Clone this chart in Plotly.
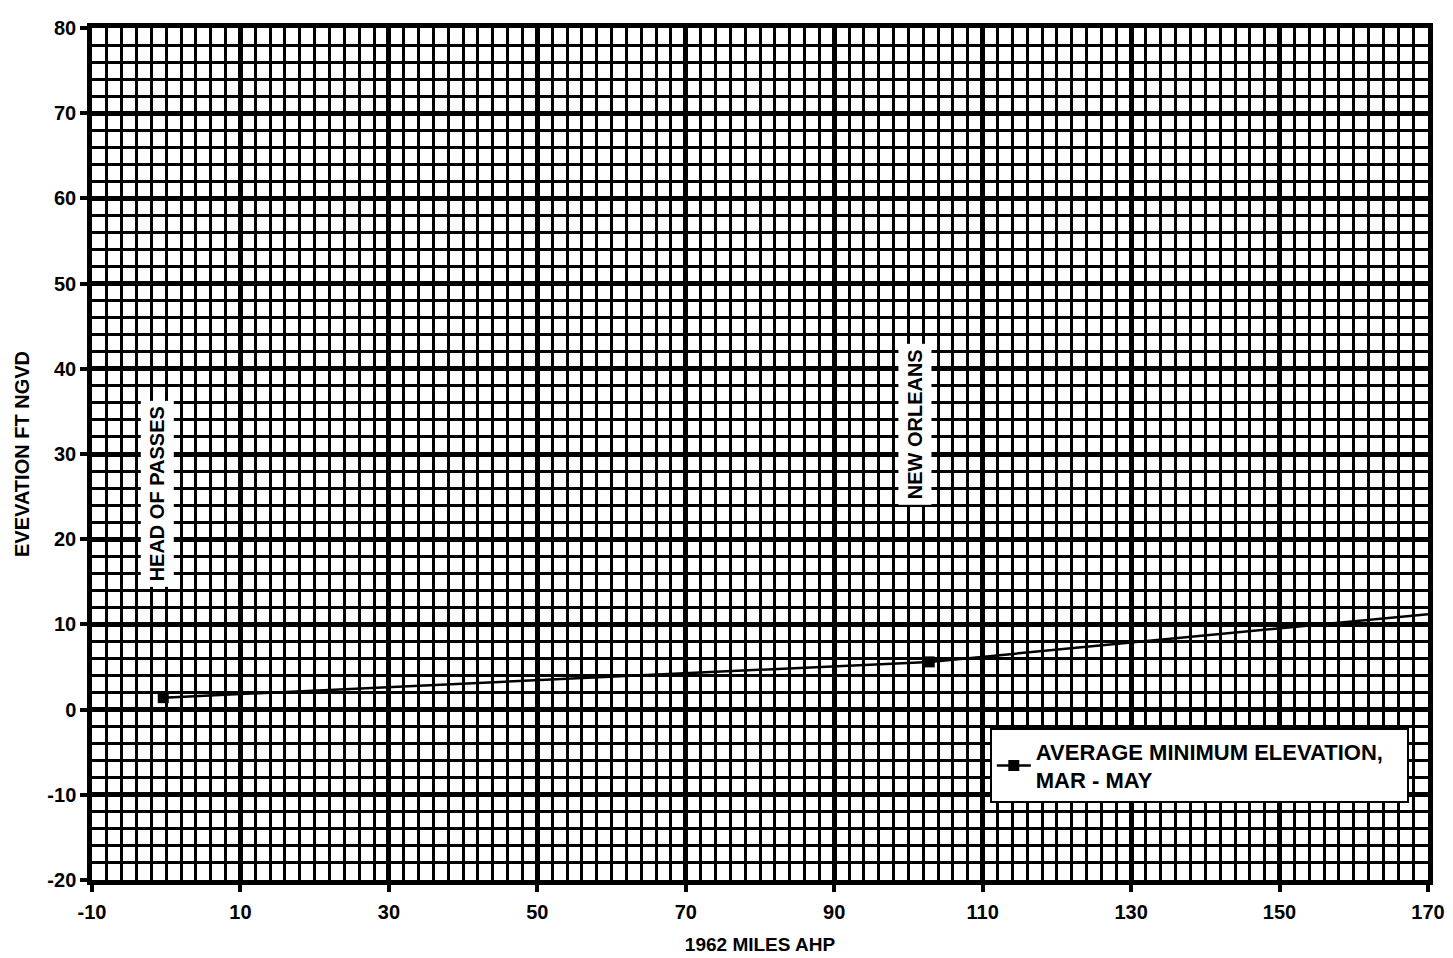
import plotly.graph_objects as go

# Data
miles = [-0.4, 102.8]
elevation = [1.4, 5.6]
ext_miles = [102.8, 170]
ext_elevation = [5.6, 11.2]

x_ticks = [-10, 10, 30, 50, 70, 90, 110, 130, 150, 170]
y_ticks = [-20, -10, 0, 10, 20, 30, 40, 50, 60, 70, 80]

labels = ["HEAD OF PASSES", "NEW ORLEANS"]
label_x = [-1.2, 100.9]
label_y = [25.3, 33.5]

FONT = "Liberation Sans, Arial, sans-serif"

fig = go.Figure()
fig.add_trace(go.Scatter(
    x=miles, y=elevation, mode="lines+markers",
    name="AVERAGE MINIMUM ELEVATION,&nbsp;&nbsp;&nbsp;<br>MAR - MAY",
    line=dict(color="black", width=2.5),
    marker=dict(symbol="square", size=11, color="black"),
))
fig.add_trace(go.Scatter(
    x=ext_miles, y=ext_elevation, mode="lines", showlegend=False,
    line=dict(color="black", width=2.5), hoverinfo="skip",
))

for t, lx, ly in zip(labels, label_x, label_y):
    fig.add_annotation(
        x=lx, y=ly, text=t, textangle=-90, showarrow=False,
        font=dict(family=FONT, size=20, color="black", weight="bold"),
        bgcolor="white", borderpad=5,
    )

axis_common = dict(
    showline=True, linecolor="black", linewidth=4.5, mirror=True,
    showgrid=True, gridcolor="black", gridwidth=4.5,
    ticks="outside", ticklen=7, tickwidth=3.5, tickcolor="black",
    zeroline=False,
    tickfont=dict(family=FONT, size=20, color="black", weight="bold"),
)

fig.update_xaxes(
    range=[-10, 170], tickvals=x_ticks, ticktext=[str(v) for v in x_ticks],
    ticklabelstandoff=3,
    minor=dict(dtick=2, tick0=-10, showgrid=True, gridcolor="black", gridwidth=2.6),
    title=dict(text="1962 MILES AHP", standoff=17,
               font=dict(family=FONT, size=19, color="black", weight="bold")),
    **axis_common,
)
fig.update_yaxes(
    range=[-20, 80], tickvals=y_ticks, ticktext=[str(v) for v in y_ticks],
    ticklabelstandoff=0,
    minor=dict(dtick=2, tick0=0, showgrid=True, gridcolor="black", gridwidth=2.6),
    title=dict(text="EVEVATION FT NGVD", standoff=14,
               font=dict(family=FONT, size=20, color="black", weight="bold")),
    **axis_common,
)

fig.update_layout(
    width=1453, height=958,
    margin=dict(l=84, r=33, t=9, b=86),
    paper_bgcolor="white", plot_bgcolor="white",
    font=dict(family=FONT, color="black"),
    showlegend=True,
    legend=dict(
        x=0.672, y=0.178, xanchor="left", yanchor="top",
        bgcolor="white", bordercolor="black", borderwidth=2,
        font=dict(family=FONT, size=22, color="black", weight="bold"),
        itemwidth=34, tracegroupgap=0,
    ),
)

fig.write_html("out.html")
